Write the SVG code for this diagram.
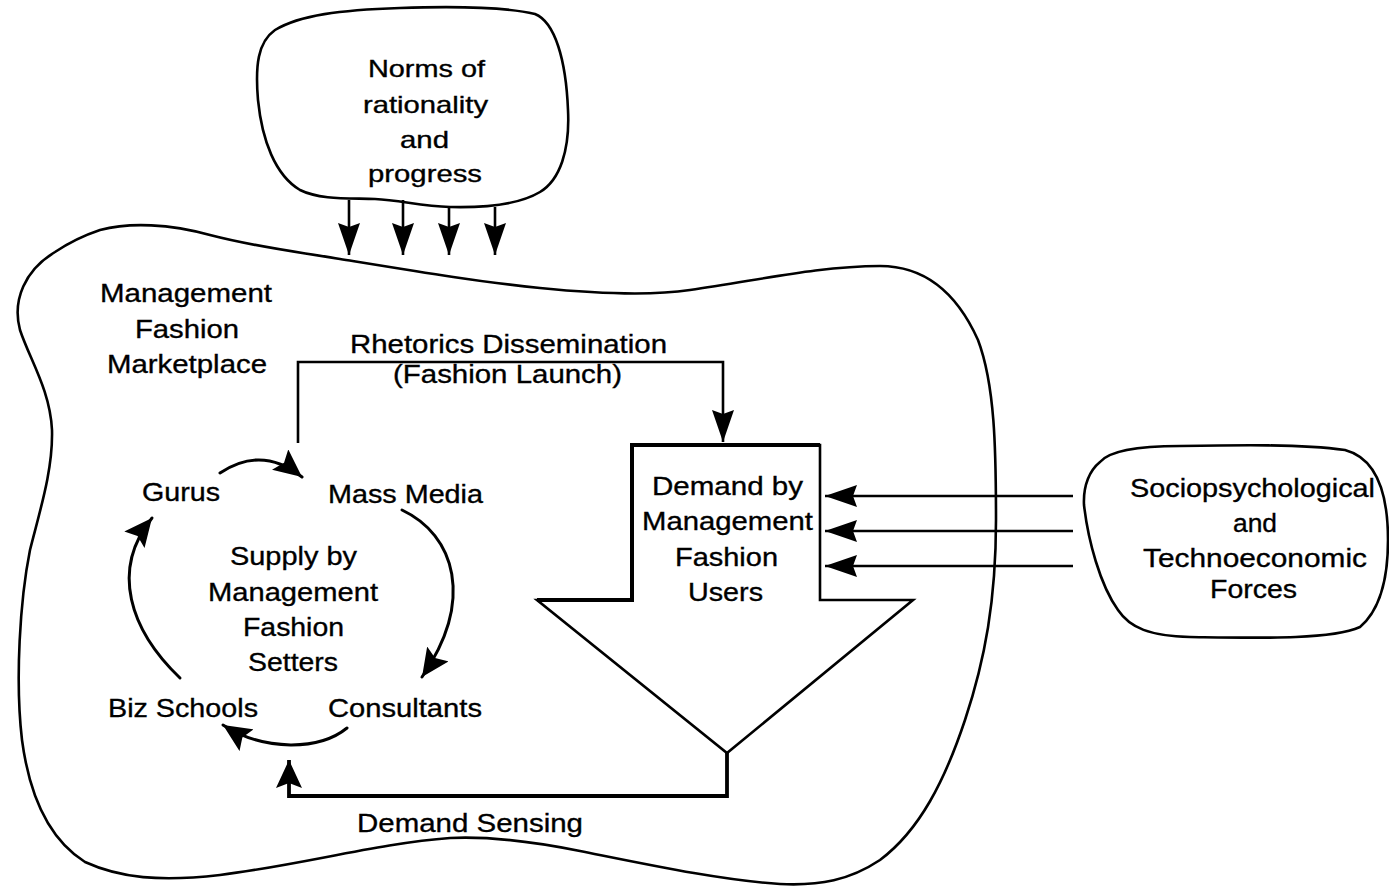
<svg xmlns="http://www.w3.org/2000/svg" width="1389" height="888" viewBox="0 0 1389 888">
  <style>
    .blob { fill: none; stroke: #000; stroke-width: 2.6; stroke-linejoin: round; }
    .lbl { font-family: "Liberation Sans", Arial, sans-serif; font-size: 26.5px; fill: #000; stroke: #000; stroke-width: 0.35; }
    .sm { font-size: 24px; }
    .wire { fill: none; stroke: #000; stroke-width: 2.6; }
    .arc { fill: none; stroke: #000; stroke-width: 3; stroke-linecap: round; }
  </style>
  <defs>
    <marker id="head" markerUnits="userSpaceOnUse" viewBox="0 0 32 22" markerWidth="32" markerHeight="22" refX="32" refY="11" orient="auto">
      <path d="M0,0 L32,11 L0,22 L4,11 Z" fill="#000"/>
    </marker>
    <marker id="headSm" markerUnits="userSpaceOnUse" viewBox="0 0 28 26" markerWidth="28" markerHeight="26" refX="28" refY="13" orient="auto">
      <path d="M0,0 L28,13 L0,26 L5,13 Z" fill="#000"/>
    </marker>
  </defs>

  <rect width="1389" height="888" fill="#fff"/>

  <!-- Marketplace boundary -->
  <g id="marketplace">
    <path class="blob" d="M100,230 C130,222 170,224 210,235 C260,248 300,252 340,259 C420,272 480,282 540,288 C600,294 650,296 690,290 C760,280 820,266 880,266 C930,266 960,300 978,340 C995,385 996,450 996,520 C996,600 985,660 965,720 C945,780 920,830 880,860 C850,880 820,886 780,884 C720,880 650,865 580,851 C530,841 490,836 450,838 C380,843 300,865 220,875 C160,882 120,878 85,862 C50,840 30,800 22,740 C15,680 20,600 30,550 C40,510 53,470 52,430 C50,390 30,360 20,330 C12,300 25,270 55,252 C70,242 85,235 100,230 Z"/>
    <text class="lbl" x="100" y="302" textLength="172" lengthAdjust="spacingAndGlyphs">Management</text>
    <text class="lbl" x="135" y="338" textLength="104" lengthAdjust="spacingAndGlyphs">Fashion</text>
    <text class="lbl" x="107" y="373" textLength="160" lengthAdjust="spacingAndGlyphs">Marketplace</text>
  </g>

  <!-- Norms cloud -->
  <g id="norms">
    <path class="blob" d="M275,30 C300,15 340,10 400,8 C460,6 510,8 535,14 C555,22 566,60 568,110 C570,150 560,180 540,192 C520,204 490,208 450,207 C420,206 400,200 375,199 C350,198 320,200 300,190 C275,175 262,140 258,100 C255,65 258,42 275,30 Z"/>
    <text class="lbl sm" x="368" y="77" textLength="117" lengthAdjust="spacingAndGlyphs">Norms of</text>
    <text class="lbl sm" x="363" y="113" textLength="125" lengthAdjust="spacingAndGlyphs">rationality</text>
    <text class="lbl sm" x="400" y="148" textLength="49" lengthAdjust="spacingAndGlyphs">and</text>
    <text class="lbl sm" x="368" y="182" textLength="114" lengthAdjust="spacingAndGlyphs">progress</text>
  </g>

  <!-- Forces cloud -->
  <g id="forces">
    <path class="blob" d="M1100,462 C1110,450 1140,446 1180,446 C1240,445 1300,444 1345,450 C1375,458 1388,490 1388,540 C1388,580 1380,610 1360,627 C1330,640 1260,638 1190,637 C1150,636 1130,628 1118,610 C1100,585 1088,540 1084,505 C1083,485 1090,470 1100,462 Z"/>
    <text class="lbl" x="1130" y="497" textLength="245" lengthAdjust="spacingAndGlyphs">Sociopsychological</text>
    <text class="lbl" x="1233" y="532" textLength="44" lengthAdjust="spacingAndGlyphs">and</text>
    <text class="lbl" x="1143" y="567" textLength="224" lengthAdjust="spacingAndGlyphs">Technoeconomic</text>
    <text class="lbl" x="1210" y="598" textLength="87" lengthAdjust="spacingAndGlyphs">Forces</text>
  </g>

  <!-- Demand block arrow -->
  <g id="demand">
    <polygon points="632,445 820,445 820,600 913,600 727,753 537,600 632,600" fill="#fff" stroke="#000" stroke-width="2.6" stroke-linejoin="miter"/>
    <path d="M537,600 H632 V445 H820" fill="none" stroke="#000" stroke-width="4"/>
    <text class="lbl" x="652" y="495" textLength="151" lengthAdjust="spacingAndGlyphs">Demand by</text>
    <text class="lbl" x="642" y="530" textLength="171" lengthAdjust="spacingAndGlyphs">Management</text>
    <text class="lbl" x="675" y="566" textLength="103" lengthAdjust="spacingAndGlyphs">Fashion</text>
    <text class="lbl" x="688" y="601" textLength="75" lengthAdjust="spacingAndGlyphs">Users</text>
  </g>

  <!-- Supply cycle -->
  <g id="supply">
    <text class="lbl" x="230" y="565" textLength="127" lengthAdjust="spacingAndGlyphs">Supply by</text>
    <text class="lbl" x="208" y="601" textLength="170" lengthAdjust="spacingAndGlyphs">Management</text>
    <text class="lbl" x="243" y="636" textLength="101" lengthAdjust="spacingAndGlyphs">Fashion</text>
    <text class="lbl" x="248" y="671" textLength="90" lengthAdjust="spacingAndGlyphs">Setters</text>
  </g>
  <g id="gurus"><text class="lbl" x="142" y="501" textLength="78" lengthAdjust="spacingAndGlyphs">Gurus</text></g>
  <g id="mass-media"><text class="lbl" x="328" y="503" textLength="155" lengthAdjust="spacingAndGlyphs">Mass Media</text></g>
  <g id="consultants"><text class="lbl" x="328" y="717" textLength="154" lengthAdjust="spacingAndGlyphs">Consultants</text></g>
  <g id="biz-schools"><text class="lbl" x="108" y="717" textLength="150" lengthAdjust="spacingAndGlyphs">Biz Schools</text></g>

  <!-- Connectors -->
  <g id="connectors">
    <line class="wire" x1="349" y1="200" x2="349" y2="255" marker-end="url(#head)"/>
    <line class="wire" x1="403" y1="200" x2="403" y2="255" marker-end="url(#head)"/>
    <line class="wire" x1="449" y1="206" x2="449" y2="255" marker-end="url(#head)"/>
    <line class="wire" x1="495" y1="207" x2="495" y2="255" marker-end="url(#head)"/>

    <path class="wire" d="M298,443 V362 H723 V442" marker-end="url(#head)"/>
    <text class="lbl" x="350" y="353" textLength="317" lengthAdjust="spacingAndGlyphs">Rhetorics Dissemination</text>
    <text class="lbl" x="393" y="383" textLength="229" lengthAdjust="spacingAndGlyphs">(Fashion Launch)</text>

    <line class="wire" x1="1073" y1="496" x2="825" y2="496" marker-end="url(#head)"/>
    <line class="wire" x1="1073" y1="531" x2="825" y2="531" marker-end="url(#head)"/>
    <line class="wire" x1="1073" y1="566" x2="825" y2="566" marker-end="url(#head)"/>

    <path d="M727,753 V796 H289 V760" fill="none" stroke="#000" stroke-width="3.8" marker-end="url(#headSm)"/>
    <text class="lbl" x="357" y="832" textLength="226" lengthAdjust="spacingAndGlyphs">Demand Sensing</text>

    <path class="arc" d="M220,473 Q262,445 302,477" marker-end="url(#headSm)"/>
    <path class="arc" d="M402,510 C455,535 475,600 422,677" marker-end="url(#headSm)"/>
    <path class="arc" d="M347,728 C320,750 265,752 223,725" marker-end="url(#headSm)"/>
    <path class="arc" d="M180,678 C130,630 110,570 152,518" marker-end="url(#headSm)"/>
  </g>
</svg>
